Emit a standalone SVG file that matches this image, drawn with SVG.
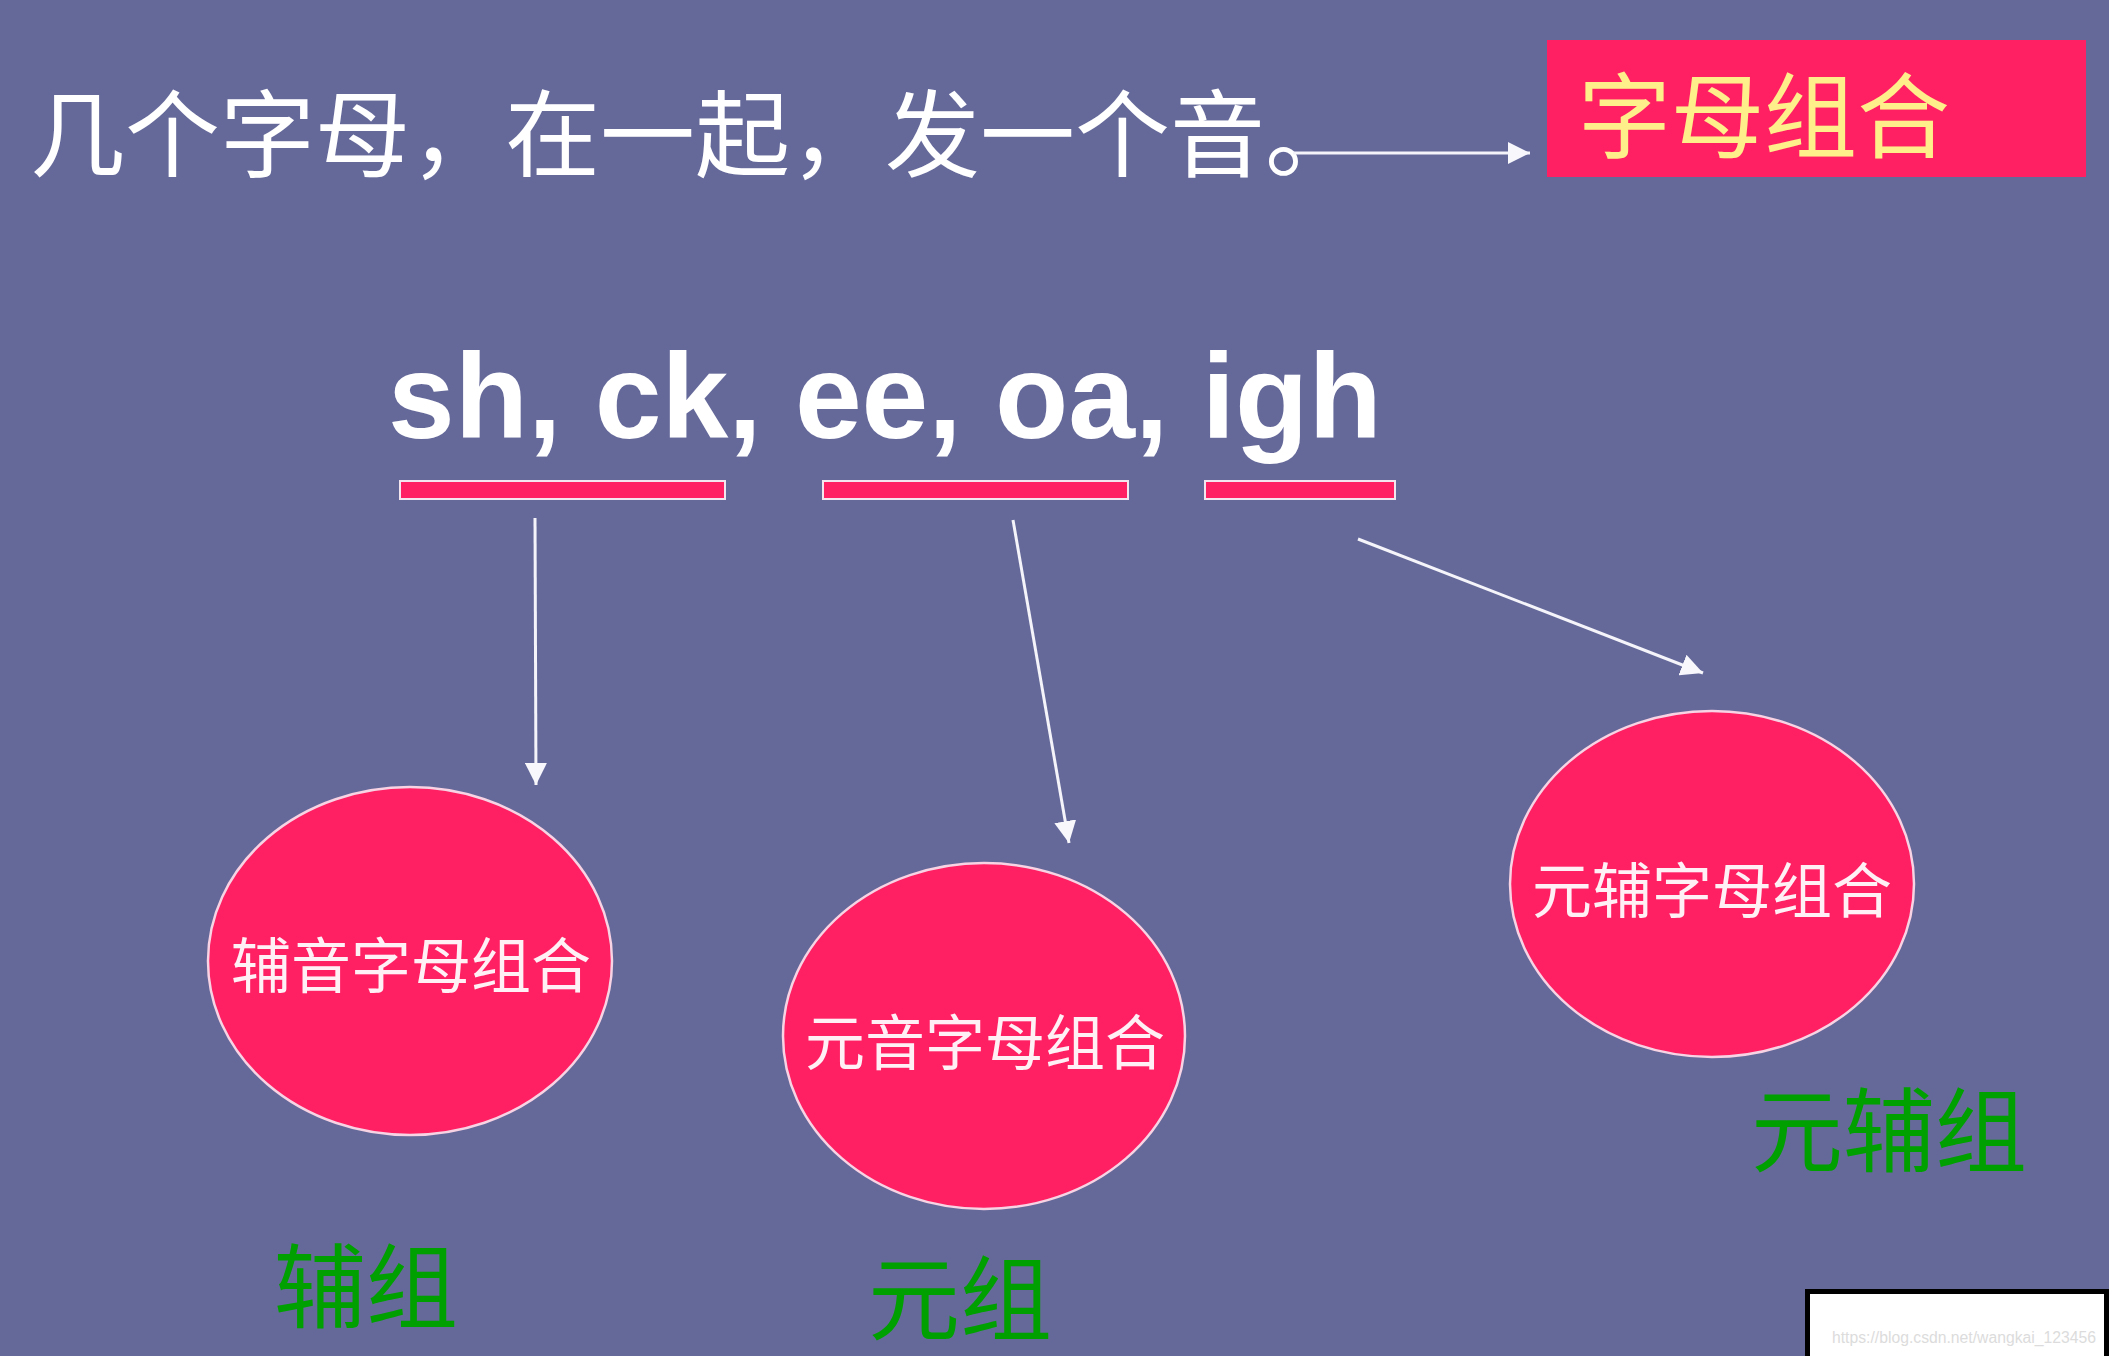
<svg xmlns="http://www.w3.org/2000/svg" width="2109" height="1356" viewBox="0 0 2109 1356">
  <defs>
    <style>
      .cjk { font-family: "Noto Sans CJK SC", "Noto Sans", sans-serif; }
      .title { fill: #ffffff; font-size: 95px; }
      .oval { fill: #ff1f63; stroke: #f7d3e3; stroke-width: 2.5; }
      .oval-text { fill: #fff0f6; font-size: 60px; text-anchor: middle; }
      .green { fill: #00a000; font-size: 92px; }
      .bar { fill: #ff1f63; stroke: #f4e6ee; stroke-width: 2; }
      .conn { stroke: #f4f4fa; stroke-width: 3; fill: none; marker-end: url(#head); }
    </style>
    <marker id="head" markerUnits="userSpaceOnUse" markerWidth="24" markerHeight="22" refX="22" refY="11" orient="auto">
      <path d="M0,0 L22,11 L0,22 Z" fill="#f7f7fc"/>
    </marker>
  </defs>

  <rect x="0" y="0" width="2109" height="1356" fill="#65699a"/>

  <g id="title">
    <text class="cjk title" x="30" y="170">几个字母，在一起，发一个音。</text>
  </g>

  <g id="box-zimuzuhe">
    <rect x="1547" y="40" width="539" height="137" fill="#ff1f63"/>
    <text class="cjk" x="1578" y="151" font-size="93" fill="#ffef8a">字母组合</text>
  </g>

  <g id="examples">
    <text x="388" y="438" font-family="Liberation Sans, Arial, sans-serif" font-weight="bold" font-size="120" fill="#ffffff">sh, ck, ee, oa, igh</text>
    <rect class="bar" x="400" y="481" width="325" height="18"/>
    <rect class="bar" x="823" y="481" width="305" height="18"/>
    <rect class="bar" x="1205" y="481" width="190" height="18"/>
  </g>

  <g id="node-fuyin">
    <ellipse class="oval" cx="410" cy="961" rx="202" ry="174"/>
    <text class="cjk oval-text" x="411" y="988">辅音字母组合</text>
  </g>

  <g id="node-yuanyin">
    <ellipse class="oval" cx="984" cy="1036" rx="201" ry="173"/>
    <text class="cjk oval-text" x="985" y="1065">元音字母组合</text>
  </g>

  <g id="node-yuanfu">
    <ellipse class="oval" cx="1712" cy="884" rx="202" ry="173"/>
    <text class="cjk oval-text" x="1712" y="913">元辅字母组合</text>
  </g>

  <g id="label-fuzu">
    <text class="cjk green" x="274" y="1321">辅组</text>
  </g>
  <g id="label-yuanzu">
    <text class="cjk green" x="868" y="1333">元组</text>
  </g>
  <g id="label-yuanfuzu">
    <text class="cjk green" x="1751" y="1165">元辅组</text>
  </g>

  <g id="connectors">
    <line class="conn" x1="1293" y1="153" x2="1530" y2="153"/>
    <line class="conn" x1="535" y1="518" x2="536" y2="785"/>
    <line class="conn" x1="1013" y1="520" x2="1069" y2="843"/>
    <line class="conn" x1="1358" y1="539" x2="1703" y2="673"/>
  </g>

  <g id="watermark">
    <rect x="1807.5" y="1291.5" width="299" height="80" fill="#ffffff" stroke="#000000" stroke-width="5"/>
    <text x="1832" y="1343" font-family="Liberation Sans, Arial, sans-serif" font-size="16" textLength="264" lengthAdjust="spacingAndGlyphs" fill="#dcdcdc">https://blog.csdn.net/wangkai_123456</text>
  </g>
</svg>
